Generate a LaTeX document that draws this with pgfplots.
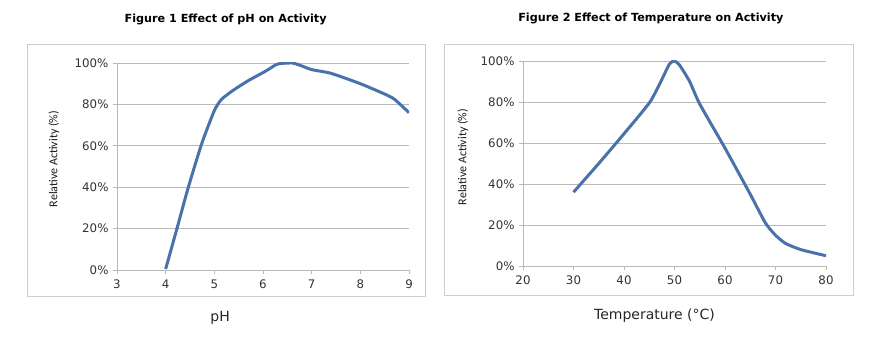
\documentclass[border=0pt]{standalone}
\usepackage{fontspec}
\setmainfont{DejaVu Sans}
\newfontfamily\carlito{Carlito}
\usepackage{pgfplots}
\pgfplotsset{compat=1.18}
\definecolor{line}{RGB}{74,114,170}
\definecolor{gridc}{RGB}{185,185,185}
\definecolor{boxc}{RGB}{205,205,205}
\pgfplotsset{
  mystyle/.style={
    scale only axis,
    anchor=south west,
    axis lines=left,
    axis line style={gridc,-},
    ymin=0, ymax=1,
    ytick={0,0.2,0.4,0.6,0.8,1},
    yticklabels={0\%,20\%,40\%,60\%,80\%,100\%},
    ymajorgrids,
    grid style={gridc, line width=0.6pt},
    tick style={gridc, line width=0.6pt},
    major tick length=4pt,
    xtick align=outside, ytick align=outside,
    tick label style={font=\fontsize{11.8}{13}\selectfont, text=black!80},
    /pgf/number format/assume math mode=true,
    yticklabel style={xshift=-1pt},
    xticklabel style={yshift=-2pt},
    title style={font=\fontsize{11.2}{13}\selectfont\bfseries, anchor=center},
    xlabel style={font=\fontsize{14}{16}\selectfont, text=black!85, anchor=center},
    ylabel style={font=\carlito\fontsize{12}{14}\selectfont, text=black!90, anchor=center},
  }
}
\begin{document}
\begin{tikzpicture}[x=1pt,y=1pt]
\path[use as bounding box] (0,0) rectangle (869,344);
\draw[boxc, line width=1pt] (27,47) rectangle (425,299);
\draw[boxc, line width=1pt] (444,48) rectangle (853,299);
\begin{axis}[mystyle,
  at={(117pt,74pt)}, width=292pt, height=207pt,
  xmin=3, xmax=9, xtick={3,4,5,6,7,8,9},
  title={Figure 1 Effect of pH on Activity},
  title style={at={(axis description cs:0.372,1)}, yshift=38pt},
  xlabel={pH},
  xlabel style={at={(axis description cs:0.353,0)}, yshift=-48pt},
  ylabel={Relative Activity (\%)},
  ylabel style={at={(axis description cs:-0.216,0.536)}},
]
\addplot[line, line width=3pt, smooth, tension=0.35, no markers] coordinates {
(4.0,0.005) (4.22,0.19) (4.46,0.395) (4.74,0.61) (5.0,0.77) (5.15,0.825)
(5.4,0.87) (5.7,0.915) (6.05,0.96) (6.3,0.995) (6.6,1.0) (6.75,0.99)
(7.0,0.968) (7.4,0.95) (8.0,0.90) (8.5,0.85) (8.7,0.825) (9.0,0.76)
};
\end{axis}
\begin{axis}[mystyle,
  at={(523pt,78pt)}, width=303pt, height=205pt,
  xmin=20, xmax=80, xtick={20,30,40,50,60,70,80},
  title={Figure 2 Effect of Temperature on Activity},
  title style={at={(axis description cs:0.422,1)}, yshift=37pt},
  xlabel={Temperature (°C)},
  xlabel style={at={(axis description cs:0.434,0)}, yshift=-50pt},
  ylabel={Relative Activity (\%)},
  ylabel style={at={(axis description cs:-0.198,0.532)}},
]
\addplot[line, line width=3pt, smooth, tension=0.35, no markers] coordinates {
(30,0.36) (35,0.50) (40,0.645) (45,0.795) (47,0.885) (49,0.985) (50,1.0)
(51,0.98) (53,0.90) (55,0.79) (60,0.575) (65,0.35) (68,0.21) (70,0.15)
(72,0.11) (75,0.08) (80,0.05)
};
\end{axis}
\end{tikzpicture}
\end{document}
